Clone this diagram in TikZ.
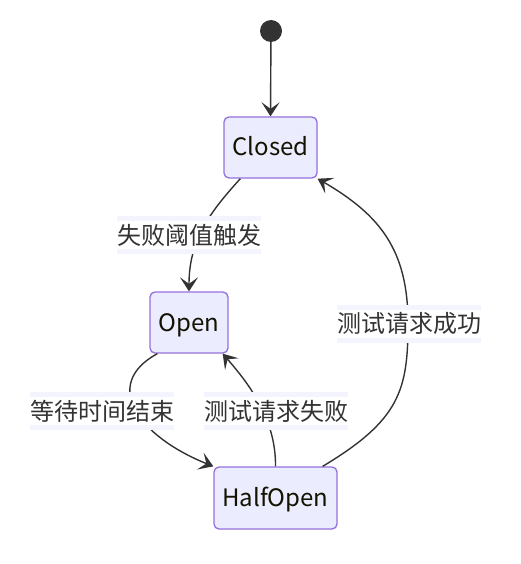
\documentclass[tikz,border=0pt]{standalone}
\usepackage{fontspec}
\setmainfont{Noto Sans CJK SC}
\usetikzlibrary{arrows.meta}
\definecolor{nodefill}{HTML}{ECECFF}
\definecolor{nodeline}{HTML}{9370DB}
\definecolor{edgecol}{HTML}{333333}
\definecolor{bandcol}{HTML}{F4F4FE}
\definecolor{txtcol}{HTML}{131300}
\tikzset{
  x=1pt, y=-1pt,
  statebox/.style={draw=nodeline, fill=nodefill, line width=1.3pt, rounded corners=5pt,
    minimum height=61pt, inner sep=0pt, text height=22pt, text depth=5pt,
    text=txtcol, font=\fontsize{24}{28}\selectfont},
  startdot/.style={circle, fill=edgecol, draw=none, minimum size=22pt, inner sep=0pt},
  edgelabel/.style={fill=bandcol, inner xsep=0pt, inner ysep=0pt, minimum height=38pt,
    text=edgecol, font=\fontsize{24}{28}\selectfont,
    path picture={\fill[white] ([yshift=-5pt]path picture bounding box.north west) rectangle ([yshift=5pt]path picture bounding box.south east);}},
  conn/.style={draw=edgecol, line width=1.4pt, -{Stealth[length=14pt,width=18pt,inset=6.5pt]}},
}
\begin{document}
\begin{tikzpicture}
\useasboundingbox (0,0) rectangle (521,564);
\node[startdot] (start) at (271,31) {};
\node[statebox, minimum width=93pt] (Closed) at (270.5,147.5) {Closed};
\node[statebox, minimum width=78pt] (Open) at (189,322.5) {Open};
\node[statebox, minimum width=123pt, minimum height=62pt] (HalfOpen) at (275.5,498) {HalfOpen};

\draw[conn] (start) -- (Closed.north);
\draw[conn] ([xshift=17pt]Closed.south west) .. controls (210,212) and (189,240) .. (Open.north);
\draw[conn] ([xshift=8pt]Open.south west) .. controls (100,385) and (140,437) .. (HalfOpen.north west);
\draw[conn] (HalfOpen.north) .. controls (276,420) and (250,385) .. ([xshift=-6pt]Open.south east);
\draw[conn] ([xshift=-15pt]HalfOpen.north east) .. controls (400,420) and (408,390) .. (408,323)
   .. controls (408,250) and (380,215) .. (Closed.south east);

\node[edgelabel] (l1) at (189,235) {失败阈值触发};
\node[edgelabel] (l2) at (102,411) {等待时间结束};
\node[edgelabel] (l3) at (276,411) {测试请求失败};
\node[edgelabel] (l4) at (409,323.5) {测试请求成功};
\end{tikzpicture}
\end{document}
